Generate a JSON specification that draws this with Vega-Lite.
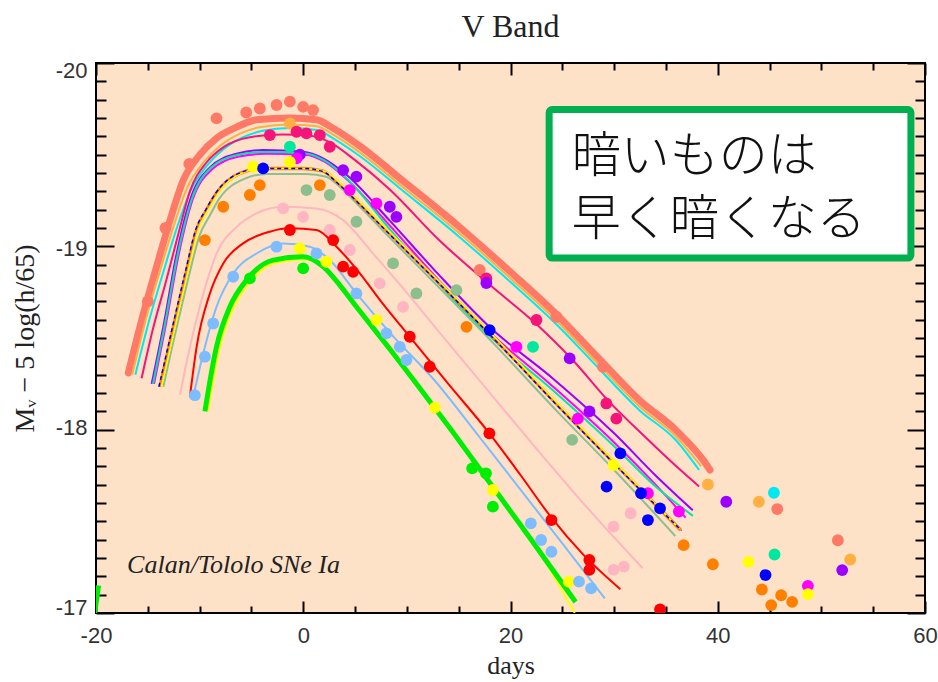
{
"$schema":"https://vega.github.io/schema/vega-lite/v6.json",
"width":829,"height":550,
"autosize":{"type":"none"},
"padding":{"left":96,"top":63,"right":13,"bottom":69},
"background":"#ffffff",
"config":{"view":{"stroke":"#000000","strokeWidth":2,"fill":"#FEE2C8"}},
"title":{"text":"V Band","font":"Liberation Serif","fontSize":32,"fontWeight":"normal","color":"#222222","anchor":"middle","frame":"group","baseline":"alphabetic","offset":-10},
"datasets":{
"curves":[
{"curve":"salmon","group":"salmon","day":-16.88,"mag":-18.31},{"curve":"salmon","group":"salmon","day":-15.44,"mag":-18.63},{"curve":"salmon","group":"salmon","day":-14.15,"mag":-18.89},{"curve":"salmon","group":"salmon","day":-12.87,"mag":-19.14},{"curve":"salmon","group":"salmon","day":-11.58,"mag":-19.36},{"curve":"salmon","group":"salmon","day":-9.97,"mag":-19.5},{"curve":"salmon","group":"salmon","day":-8.37,"mag":-19.59},{"curve":"salmon","group":"salmon","day":-6.44,"mag":-19.65},{"curve":"salmon","group":"salmon","day":-4.51,"mag":-19.69},{"curve":"salmon","group":"salmon","day":-1.29,"mag":-19.7},{"curve":"salmon","group":"salmon","day":1.28,"mag":-19.69},{"curve":"salmon","group":"salmon","day":3,"mag":-19.64},{"curve":"salmon","group":"salmon","day":5.14,"mag":-19.56},{"curve":"salmon","group":"salmon","day":10,"mag":-19.34},{"curve":"salmon","group":"salmon","day":14.78,"mag":-19.12},{"curve":"salmon","group":"salmon","day":20,"mag":-18.86},{"curve":"salmon","group":"salmon","day":24.42,"mag":-18.63},{"curve":"salmon","group":"salmon","day":28.5,"mag":-18.39},{"curve":"salmon","group":"salmon","day":32.46,"mag":-18.16},{"curve":"salmon","group":"salmon","day":35.92,"mag":-18.0},{"curve":"salmon","group":"salmon","day":38.58,"mag":-17.835},{"curve":"salmon","group":"salmon","day":39.25,"mag":-17.78},
{"curve":"lightorange","group":"lightorange","day":-16.5,"mag":-18.3},{"curve":"lightorange","group":"lightorange","day":-15.1,"mag":-18.62},{"curve":"lightorange","group":"lightorange","day":-13.8,"mag":-18.87},{"curve":"lightorange","group":"lightorange","day":-12.5,"mag":-19.11},{"curve":"lightorange","group":"lightorange","day":-11.2,"mag":-19.32},{"curve":"lightorange","group":"lightorange","day":-9.6,"mag":-19.46},{"curve":"lightorange","group":"lightorange","day":-8,"mag":-19.55},{"curve":"lightorange","group":"lightorange","day":-6.1,"mag":-19.615},{"curve":"lightorange","group":"lightorange","day":-4.2,"mag":-19.65},{"curve":"lightorange","group":"lightorange","day":-1.3,"mag":-19.665},{"curve":"lightorange","group":"lightorange","day":1.3,"mag":-19.655},{"curve":"lightorange","group":"lightorange","day":3,"mag":-19.605},{"curve":"lightorange","group":"lightorange","day":5.14,"mag":-19.525},{"curve":"lightorange","group":"lightorange","day":10,"mag":-19.305},{"curve":"lightorange","group":"lightorange","day":14.78,"mag":-19.085},{"curve":"lightorange","group":"lightorange","day":20,"mag":-18.825},{"curve":"lightorange","group":"lightorange","day":24.42,"mag":-18.595},{"curve":"lightorange","group":"lightorange","day":28.5,"mag":-18.355},{"curve":"lightorange","group":"lightorange","day":32.46,"mag":-18.125},{"curve":"lightorange","group":"lightorange","day":35.92,"mag":-17.965},{"curve":"lightorange","group":"lightorange","day":38.4,"mag":-17.8},
{"curve":"cyan","group":"cyan","day":-16.2,"mag":-18.3},{"curve":"cyan","group":"cyan","day":-14.8,"mag":-18.61},{"curve":"cyan","group":"cyan","day":-13.5,"mag":-18.86},{"curve":"cyan","group":"cyan","day":-12.2,"mag":-19.1},{"curve":"cyan","group":"cyan","day":-10.9,"mag":-19.3},{"curve":"cyan","group":"cyan","day":-9.3,"mag":-19.44},{"curve":"cyan","group":"cyan","day":-7.7,"mag":-19.53},{"curve":"cyan","group":"cyan","day":-5.8,"mag":-19.595},{"curve":"cyan","group":"cyan","day":-3.9,"mag":-19.63},{"curve":"cyan","group":"cyan","day":-1.3,"mag":-19.645},{"curve":"cyan","group":"cyan","day":1.3,"mag":-19.635},{"curve":"cyan","group":"cyan","day":3,"mag":-19.585},{"curve":"cyan","group":"cyan","day":5.14,"mag":-19.505},{"curve":"cyan","group":"cyan","day":10,"mag":-19.285},{"curve":"cyan","group":"cyan","day":14.78,"mag":-19.065},{"curve":"cyan","group":"cyan","day":20,"mag":-18.805},{"curve":"cyan","group":"cyan","day":24.42,"mag":-18.575},{"curve":"cyan","group":"cyan","day":28.5,"mag":-18.335},{"curve":"cyan","group":"cyan","day":32.46,"mag":-18.105},{"curve":"cyan","group":"cyan","day":35.92,"mag":-17.945},{"curve":"cyan","group":"cyan","day":38.2,"mag":-17.78},
{"curve":"deeppink","group":"deeppink","day":-15.6,"mag":-18.28},{"curve":"deeppink","group":"deeppink","day":-14.5,"mag":-18.55},{"curve":"deeppink","group":"deeppink","day":-13.19,"mag":-18.82},{"curve":"deeppink","group":"deeppink","day":-12,"mag":-19.08},{"curve":"deeppink","group":"deeppink","day":-10.94,"mag":-19.3},{"curve":"deeppink","group":"deeppink","day":-9.3,"mag":-19.46},{"curve":"deeppink","group":"deeppink","day":-7.72,"mag":-19.54},{"curve":"deeppink","group":"deeppink","day":-5.15,"mag":-19.595},{"curve":"deeppink","group":"deeppink","day":-2,"mag":-19.61},{"curve":"deeppink","group":"deeppink","day":0.5,"mag":-19.605},{"curve":"deeppink","group":"deeppink","day":2.5,"mag":-19.57},{"curve":"deeppink","group":"deeppink","day":5,"mag":-19.47},{"curve":"deeppink","group":"deeppink","day":8.35,"mag":-19.31},{"curve":"deeppink","group":"deeppink","day":13,"mag":-19.04},{"curve":"deeppink","group":"deeppink","day":18,"mag":-18.79},{"curve":"deeppink","group":"deeppink","day":22.8,"mag":-18.56},{"curve":"deeppink","group":"deeppink","day":26,"mag":-18.38},{"curve":"deeppink","group":"deeppink","day":29.4,"mag":-18.16},{"curve":"deeppink","group":"deeppink","day":33,"mag":-17.96},{"curve":"deeppink","group":"deeppink","day":36,"mag":-17.8},{"curve":"deeppink","group":"deeppink","day":38.2,"mag":-17.69},
{"curve":"purple","group":"purple","day":-14.63,"mag":-18.25},{"curve":"purple","group":"purple","day":-13.51,"mag":-18.56},{"curve":"purple","group":"purple","day":-12.22,"mag":-18.96},{"curve":"purple","group":"purple","day":-10.94,"mag":-19.25},{"curve":"purple","group":"purple","day":-9.01,"mag":-19.43},{"curve":"purple","group":"purple","day":-6.44,"mag":-19.505},{"curve":"purple","group":"purple","day":-3.87,"mag":-19.525},{"curve":"purple","group":"purple","day":-0.01,"mag":-19.516},{"curve":"purple","group":"purple","day":1.92,"mag":-19.48},{"curve":"purple","group":"purple","day":4.17,"mag":-19.39},{"curve":"purple","group":"purple","day":8.35,"mag":-19.14},{"curve":"purple","group":"purple","day":13,"mag":-18.85},{"curve":"purple","group":"purple","day":17.99,"mag":-18.56},{"curve":"purple","group":"purple","day":24.28,"mag":-18.27},{"curve":"purple","group":"purple","day":30,"mag":-17.98},{"curve":"purple","group":"purple","day":34,"mag":-17.75},{"curve":"purple","group":"purple","day":37.59,"mag":-17.56},
{"curve":"magenta","group":"magenta","day":-14.4,"mag":-18.25},{"curve":"magenta","group":"magenta","day":-13.3,"mag":-18.56},{"curve":"magenta","group":"magenta","day":-12,"mag":-18.96},{"curve":"magenta","group":"magenta","day":-10.7,"mag":-19.25},{"curve":"magenta","group":"magenta","day":-8.8,"mag":-19.42},{"curve":"magenta","group":"magenta","day":-6.2,"mag":-19.49},{"curve":"magenta","group":"magenta","day":-3.6,"mag":-19.505},{"curve":"magenta","group":"magenta","day":0.2,"mag":-19.5},{"curve":"magenta","group":"magenta","day":2.1,"mag":-19.46},{"curve":"magenta","group":"magenta","day":4.3,"mag":-19.36},{"curve":"magenta","group":"magenta","day":8.4,"mag":-19.11},{"curve":"magenta","group":"magenta","day":13,"mag":-18.82},{"curve":"magenta","group":"magenta","day":18,"mag":-18.53},{"curve":"magenta","group":"magenta","day":24,"mag":-18.24},{"curve":"magenta","group":"magenta","day":30,"mag":-17.93},{"curve":"magenta","group":"magenta","day":34,"mag":-17.7},{"curve":"magenta","group":"magenta","day":36.9,"mag":-17.52},
{"curve":"turquoise","group":"turquoise","day":-14.5,"mag":-18.25},{"curve":"turquoise","group":"turquoise","day":-13.4,"mag":-18.56},{"curve":"turquoise","group":"turquoise","day":-12.1,"mag":-18.96},{"curve":"turquoise","group":"turquoise","day":-10.8,"mag":-19.25},{"curve":"turquoise","group":"turquoise","day":-8.9,"mag":-19.43},{"curve":"turquoise","group":"turquoise","day":-6.3,"mag":-19.5},{"curve":"turquoise","group":"turquoise","day":-3.7,"mag":-19.515},{"curve":"turquoise","group":"turquoise","day":0.1,"mag":-19.508},{"curve":"turquoise","group":"turquoise","day":2,"mag":-19.47},{"curve":"turquoise","group":"turquoise","day":4.2,"mag":-19.37},{"curve":"turquoise","group":"turquoise","day":8.4,"mag":-19.09},{"curve":"turquoise","group":"turquoise","day":13,"mag":-18.8},{"curve":"turquoise","group":"turquoise","day":18,"mag":-18.51},{"curve":"turquoise","group":"turquoise","day":24.2,"mag":-18.21},{"curve":"turquoise","group":"turquoise","day":30,"mag":-17.91},{"curve":"turquoise","group":"turquoise","day":34,"mag":-17.69},{"curve":"turquoise","group":"turquoise","day":37.6,"mag":-17.53},
{"curve":"graygreen","group":"graygreen","day":-13.5,"mag":-18.234},{"curve":"graygreen","group":"graygreen","day":-12.7,"mag":-18.44},{"curve":"graygreen","group":"graygreen","day":-11.9,"mag":-18.634},{"curve":"graygreen","group":"graygreen","day":-10.9,"mag":-18.87},{"curve":"graygreen","group":"graygreen","day":-10,"mag":-19.06},{"curve":"graygreen","group":"graygreen","day":-9,"mag":-19.17},{"curve":"graygreen","group":"graygreen","day":-8.1,"mag":-19.26},{"curve":"graygreen","group":"graygreen","day":-5.8,"mag":-19.365},{"curve":"graygreen","group":"graygreen","day":-3.5,"mag":-19.395},{"curve":"graygreen","group":"graygreen","day":0.3,"mag":-19.395},{"curve":"graygreen","group":"graygreen","day":2.2,"mag":-19.38},{"curve":"graygreen","group":"graygreen","day":3.8,"mag":-19.31},{"curve":"graygreen","group":"graygreen","day":5.4,"mag":-19.22},{"curve":"graygreen","group":"graygreen","day":8.3,"mag":-19.05},{"curve":"graygreen","group":"graygreen","day":11.8,"mag":-18.85},{"curve":"graygreen","group":"graygreen","day":18.2,"mag":-18.48},{"curve":"graygreen","group":"graygreen","day":24.5,"mag":-18.1},{"curve":"graygreen","group":"graygreen","day":30,"mag":-17.78},{"curve":"graygreen","group":"graygreen","day":35.9,"mag":-17.42},
{"curve":"cluster_orange","group":"darkorange","day":-13.83,"mag":-18.234},{"curve":"cluster_orange","group":"darkorange","day":-13,"mag":-18.44},{"curve":"cluster_orange","group":"darkorange","day":-12.22,"mag":-18.634},{"curve":"cluster_orange","group":"darkorange","day":-11.2,"mag":-18.88},{"curve":"cluster_orange","group":"darkorange","day":-10.29,"mag":-19.089},{"curve":"cluster_orange","group":"darkorange","day":-9.3,"mag":-19.2},{"curve":"cluster_orange","group":"darkorange","day":-8.37,"mag":-19.289},{"curve":"cluster_orange","group":"darkorange","day":-6.12,"mag":-19.398},{"curve":"cluster_orange","group":"darkorange","day":-3.87,"mag":-19.425},{"curve":"cluster_orange","group":"darkorange","day":-0.01,"mag":-19.425},{"curve":"cluster_orange","group":"darkorange","day":1.92,"mag":-19.41},{"curve":"cluster_orange","group":"darkorange","day":3.5,"mag":-19.34},{"curve":"cluster_orange","group":"darkorange","day":5.14,"mag":-19.252},{"curve":"cluster_orange","group":"darkorange","day":8,"mag":-19.09},{"curve":"cluster_orange","group":"darkorange","day":11.57,"mag":-18.889},{"curve":"cluster_orange","group":"darkorange","day":17.99,"mag":-18.525},{"curve":"cluster_orange","group":"darkorange","day":24.42,"mag":-18.143},{"curve":"cluster_orange","group":"darkorange","day":30,"mag":-17.82},{"curve":"cluster_orange","group":"darkorange","day":36.4,"mag":-17.453},
{"curve":"cluster_yellow","group":"yellow","day":-13.68,"mag":-18.234},{"curve":"cluster_yellow","group":"yellow","day":-12.85,"mag":-18.44},{"curve":"cluster_yellow","group":"yellow","day":-12.07,"mag":-18.634},{"curve":"cluster_yellow","group":"yellow","day":-11.05,"mag":-18.88},{"curve":"cluster_yellow","group":"yellow","day":-10.14,"mag":-19.089},{"curve":"cluster_yellow","group":"yellow","day":-9.15,"mag":-19.2},{"curve":"cluster_yellow","group":"yellow","day":-8.22,"mag":-19.289},{"curve":"cluster_yellow","group":"yellow","day":-5.97,"mag":-19.398},{"curve":"cluster_yellow","group":"yellow","day":-3.72,"mag":-19.425},{"curve":"cluster_yellow","group":"yellow","day":0.14,"mag":-19.425},{"curve":"cluster_yellow","group":"yellow","day":2.07,"mag":-19.41},{"curve":"cluster_yellow","group":"yellow","day":3.65,"mag":-19.34},{"curve":"cluster_yellow","group":"yellow","day":5.29,"mag":-19.252},{"curve":"cluster_yellow","group":"yellow","day":8.15,"mag":-19.09},{"curve":"cluster_yellow","group":"yellow","day":11.72,"mag":-18.889},{"curve":"cluster_yellow","group":"yellow","day":18.14,"mag":-18.525},{"curve":"cluster_yellow","group":"yellow","day":24.57,"mag":-18.143},{"curve":"cluster_yellow","group":"yellow","day":30.15,"mag":-17.82},{"curve":"cluster_yellow","group":"yellow","day":36.3,"mag":-17.46},
{"curve":"cluster_blue","group":"blue","day":-13.93,"mag":-18.234},{"curve":"cluster_blue","group":"blue","day":-13.1,"mag":-18.44},{"curve":"cluster_blue","group":"blue","day":-12.32,"mag":-18.634},{"curve":"cluster_blue","group":"blue","day":-11.3,"mag":-18.88},{"curve":"cluster_blue","group":"blue","day":-10.39,"mag":-19.089},{"curve":"cluster_blue","group":"blue","day":-9.4,"mag":-19.2},{"curve":"cluster_blue","group":"blue","day":-8.47,"mag":-19.289},{"curve":"cluster_blue","group":"blue","day":-6.22,"mag":-19.398},{"curve":"cluster_blue","group":"blue","day":-3.97,"mag":-19.425},{"curve":"cluster_blue","group":"blue","day":-0.11,"mag":-19.425},{"curve":"cluster_blue","group":"blue","day":1.82,"mag":-19.41},{"curve":"cluster_blue","group":"blue","day":3.4,"mag":-19.34},{"curve":"cluster_blue","group":"blue","day":5.04,"mag":-19.252},{"curve":"cluster_blue","group":"blue","day":7.9,"mag":-19.09},{"curve":"cluster_blue","group":"blue","day":11.47,"mag":-18.889},{"curve":"cluster_blue","group":"blue","day":17.89,"mag":-18.525},{"curve":"cluster_blue","group":"blue","day":24.32,"mag":-18.143},{"curve":"cluster_blue","group":"blue","day":29.9,"mag":-17.82},{"curve":"cluster_blue","group":"blue","day":36.5,"mag":-17.45},
{"curve":"lightpink","group":"lightpink","day":-11.9,"mag":-18.19},{"curve":"lightpink","group":"lightpink","day":-10.94,"mag":-18.45},{"curve":"lightpink","group":"lightpink","day":-9.65,"mag":-18.74},{"curve":"lightpink","group":"lightpink","day":-8.37,"mag":-18.96},{"curve":"lightpink","group":"lightpink","day":-6.44,"mag":-19.105},{"curve":"lightpink","group":"lightpink","day":-4.51,"mag":-19.18},{"curve":"lightpink","group":"lightpink","day":-1.94,"mag":-19.216},{"curve":"lightpink","group":"lightpink","day":1.28,"mag":-19.207},{"curve":"lightpink","group":"lightpink","day":3.85,"mag":-19.143},{"curve":"lightpink","group":"lightpink","day":6.74,"mag":-18.96},{"curve":"lightpink","group":"lightpink","day":9.5,"mag":-18.78},{"curve":"lightpink","group":"lightpink","day":13,"mag":-18.54},{"curve":"lightpink","group":"lightpink","day":16.97,"mag":-18.271},{"curve":"lightpink","group":"lightpink","day":22,"mag":-17.93},{"curve":"lightpink","group":"lightpink","day":27,"mag":-17.6},{"curve":"lightpink","group":"lightpink","day":32.76,"mag":-17.244},
{"curve":"red","group":"red","day":-10.94,"mag":-18.179},{"curve":"red","group":"red","day":-10.29,"mag":-18.452},{"curve":"red","group":"red","day":-9.01,"mag":-18.743},{"curve":"red","group":"red","day":-7.72,"mag":-18.907},{"curve":"red","group":"red","day":-5.8,"mag":-19.016},{"curve":"red","group":"red","day":-3.22,"mag":-19.08},{"curve":"red","group":"red","day":-1.29,"mag":-19.098},{"curve":"red","group":"red","day":1.28,"mag":-19.089},{"curve":"red","group":"red","day":3.21,"mag":-18.998},{"curve":"red","group":"red","day":5.5,"mag":-18.85},{"curve":"red","group":"red","day":7.5,"mag":-18.7},{"curve":"red","group":"red","day":10.28,"mag":-18.507},{"curve":"red","group":"red","day":14,"mag":-18.25},{"curve":"red","group":"red","day":17.96,"mag":-17.98},{"curve":"red","group":"red","day":21,"mag":-17.75},{"curve":"red","group":"red","day":23.95,"mag":-17.52},{"curve":"red","group":"red","day":27,"mag":-17.32},{"curve":"red","group":"red","day":30.6,"mag":-17.13},
{"curve":"lightblue","group":"lightblue","day":-10.62,"mag":-18.179},{"curve":"lightblue","group":"lightblue","day":-9.65,"mag":-18.416},{"curve":"lightblue","group":"lightblue","day":-8.37,"mag":-18.67},{"curve":"lightblue","group":"lightblue","day":-6.76,"mag":-18.852},{"curve":"lightblue","group":"lightblue","day":-4.51,"mag":-18.961},{"curve":"lightblue","group":"lightblue","day":-1.94,"mag":-19.016},{"curve":"lightblue","group":"lightblue","day":0.64,"mag":-18.998},{"curve":"lightblue","group":"lightblue","day":2.56,"mag":-18.925},{"curve":"lightblue","group":"lightblue","day":5.13,"mag":-18.743},{"curve":"lightblue","group":"lightblue","day":8.5,"mag":-18.52},{"curve":"lightblue","group":"lightblue","day":12.64,"mag":-18.271},{"curve":"lightblue","group":"lightblue","day":17,"mag":-17.96},{"curve":"lightblue","group":"lightblue","day":21,"mag":-17.67},{"curve":"lightblue","group":"lightblue","day":25,"mag":-17.38},{"curve":"lightblue","group":"lightblue","day":29.1,"mag":-17.08},
{"curve":"green_yellow","group":"yellow","day":-9.2,"mag":-18.1},{"curve":"green_yellow","group":"yellow","day":-8.1,"mag":-18.44},{"curve":"green_yellow","group":"yellow","day":-6.8,"mag":-18.655},{"curve":"green_yellow","group":"yellow","day":-5.2,"mag":-18.8},{"curve":"green_yellow","group":"yellow","day":-2.6,"mag":-18.91},{"curve":"green_yellow","group":"yellow","day":0.3,"mag":-18.928},{"curve":"green_yellow","group":"yellow","day":2.2,"mag":-18.872},{"curve":"green_yellow","group":"yellow","day":3.8,"mag":-18.77},{"curve":"green_yellow","group":"yellow","day":5.4,"mag":-18.65},{"curve":"green_yellow","group":"yellow","day":8.6,"mag":-18.42},{"curve":"green_yellow","group":"yellow","day":10.9,"mag":-18.25},{"curve":"green_yellow","group":"yellow","day":14.3,"mag":-17.995},{"curve":"green_yellow","group":"yellow","day":18.3,"mag":-17.685},{"curve":"green_yellow","group":"yellow","day":22.3,"mag":-17.375},{"curve":"green_yellow","group":"yellow","day":26.2,"mag":-17.0},
{"curve":"green","group":"green","day":-9.49,"mag":-18.1},{"curve":"green","group":"green","day":-8.37,"mag":-18.452},{"curve":"green","group":"green","day":-7.08,"mag":-18.67},{"curve":"green","group":"green","day":-5.47,"mag":-18.816},{"curve":"green","group":"green","day":-2.9,"mag":-18.925},{"curve":"green","group":"green","day":-0.01,"mag":-18.943},{"curve":"green","group":"green","day":1.92,"mag":-18.889},{"curve":"green","group":"green","day":3.5,"mag":-18.79},{"curve":"green","group":"green","day":5.13,"mag":-18.67},{"curve":"green","group":"green","day":8.35,"mag":-18.44},{"curve":"green","group":"green","day":10.65,"mag":-18.271},{"curve":"green","group":"green","day":14,"mag":-18.02},{"curve":"green","group":"green","day":18,"mag":-17.71},{"curve":"green","group":"green","day":22,"mag":-17.4},{"curve":"green","group":"green","day":26.28,"mag":-17.06},
{"curve":"green_edge","group":"green","day":-20.3,"mag":-16.93},{"curve":"green_edge","group":"green","day":-19.75,"mag":-17.15}
],
"dots":[
{"group":"salmon","day":-15.0,"mag":-18.7},{"group":"salmon","day":-13.3,"mag":-19.1},{"group":"salmon","day":-11.0,"mag":-19.45},{"group":"salmon","day":-8.37,"mag":-19.698},{"group":"salmon","day":-5.5,"mag":-19.73},{"group":"salmon","day":-4.19,"mag":-19.752},{"group":"salmon","day":-2.58,"mag":-19.771},{"group":"salmon","day":-1.29,"mag":-19.789},{"group":"salmon","day":-0.01,"mag":-19.761},{"group":"salmon","day":0.95,"mag":-19.743},{"group":"salmon","day":17.03,"mag":-18.871},{"group":"salmon","day":24.42,"mag":-18.616},{"group":"salmon","day":28.92,"mag":-18.343},{"group":"salmon","day":45.74,"mag":-17.567},{"group":"salmon","day":51.59,"mag":-17.397},
{"group":"lightorange","day":-1.29,"mag":-19.67},{"group":"lightorange","day":39.05,"mag":-17.701},{"group":"lightorange","day":43.97,"mag":-17.607},{"group":"lightorange","day":52.78,"mag":-17.292},
{"group":"cyan","day":45.42,"mag":-17.656},
{"group":"deeppink","day":-3.22,"mag":-19.607},{"group":"deeppink","day":-0.65,"mag":-19.625},{"group":"deeppink","day":0.31,"mag":-19.616},{"group":"deeppink","day":1.6,"mag":-19.607},{"group":"deeppink","day":2.56,"mag":-19.543},{"group":"deeppink","day":17.67,"mag":-18.825},{"group":"deeppink","day":22.5,"mag":-18.598},{"group":"deeppink","day":29.25,"mag":-18.143},{"group":"deeppink","day":30.21,"mag":-18.06},
{"group":"purple","day":-0.33,"mag":-19.5},{"group":"purple","day":3.85,"mag":-19.416},{"group":"purple","day":5.13,"mag":-19.38},{"group":"purple","day":8.35,"mag":-19.216},{"group":"purple","day":8.99,"mag":-19.161},{"group":"purple","day":17.67,"mag":-18.8},{"group":"purple","day":25.71,"mag":-18.389},{"group":"purple","day":27.62,"mag":-18.1},{"group":"purple","day":40.82,"mag":-17.607},{"group":"purple","day":52.01,"mag":-17.234},
{"group":"magenta","day":-0.65,"mag":-19.48},{"group":"magenta","day":4.49,"mag":-19.307},{"group":"magenta","day":7.06,"mag":-19.234},{"group":"magenta","day":20.57,"mag":-18.452},{"group":"magenta","day":26.5,"mag":-18.06},{"group":"magenta","day":33.26,"mag":-17.653},{"group":"magenta","day":36.25,"mag":-17.553},{"group":"magenta","day":48.7,"mag":-17.148},
{"group":"turquoise","day":-1.29,"mag":-19.543},{"group":"turquoise","day":22.17,"mag":-18.452},{"group":"turquoise","day":45.48,"mag":-17.319},
{"group":"yellow","day":-4.83,"mag":-19.434},{"group":"yellow","day":-1.29,"mag":-19.461},{"group":"yellow","day":-0.33,"mag":-18.989},{"group":"yellow","day":2.24,"mag":-18.916},{"group":"yellow","day":7.07,"mag":-18.598},{"group":"yellow","day":12.7,"mag":-18.12},{"group":"yellow","day":18.3,"mag":-17.671},{"group":"yellow","day":25.62,"mag":-17.171},{"group":"yellow","day":29.94,"mag":-17.807},{"group":"yellow","day":42.97,"mag":-17.279},{"group":"yellow","day":48.7,"mag":-17.103},
{"group":"blue","day":-3.87,"mag":-19.425},{"group":"blue","day":17.99,"mag":-18.543},{"group":"blue","day":30.6,"mag":-17.871},{"group":"blue","day":29.27,"mag":-17.689},{"group":"blue","day":32.6,"mag":-17.653},{"group":"blue","day":34.43,"mag":-17.571},{"group":"blue","day":33.26,"mag":-17.507},{"group":"blue","day":44.61,"mag":-17.207},
{"group":"darkorange","day":-4.19,"mag":-19.334},{"group":"darkorange","day":-5.15,"mag":-19.28},{"group":"darkorange","day":-7.72,"mag":-19.216},{"group":"darkorange","day":-9.49,"mag":-19.034},{"group":"darkorange","day":1.6,"mag":-19.334},{"group":"darkorange","day":15.75,"mag":-18.561},{"group":"darkorange","day":36.71,"mag":-17.37},{"group":"darkorange","day":39.53,"mag":-17.266},{"group":"darkorange","day":44.26,"mag":-17.128},{"group":"darkorange","day":46.12,"mag":-17.097},{"group":"darkorange","day":47.18,"mag":-17.061},{"group":"darkorange","day":45.16,"mag":-17.043},
{"group":"graygreen","day":0.31,"mag":-19.307},{"group":"graygreen","day":2.56,"mag":-19.28},{"group":"graygreen","day":5.13,"mag":-19.134},{"group":"graygreen","day":8.67,"mag":-18.907},{"group":"graygreen","day":10.92,"mag":-18.743},{"group":"graygreen","day":14.78,"mag":-18.761},{"group":"graygreen","day":25.95,"mag":-17.944},
{"group":"lightpink","day":-1.94,"mag":-19.207},{"group":"lightpink","day":-0.01,"mag":-19.161},{"group":"lightpink","day":2.56,"mag":-19.089},{"group":"lightpink","day":4.49,"mag":-18.98},{"group":"lightpink","day":7.38,"mag":-18.798},{"group":"lightpink","day":9.63,"mag":-18.67},{"group":"lightpink","day":29.94,"mag":-17.471},{"group":"lightpink","day":31.6,"mag":-17.544},{"group":"lightpink","day":29.94,"mag":-17.235},{"group":"lightpink","day":30.94,"mag":-17.253},
{"group":"red","day":-1.29,"mag":-19.089},{"group":"red","day":2.89,"mag":-19.034},{"group":"red","day":3.85,"mag":-18.889},{"group":"red","day":4.81,"mag":-18.861},{"group":"red","day":10.28,"mag":-18.507},{"group":"red","day":12.21,"mag":-18.343},{"group":"red","day":17.96,"mag":-17.98},{"group":"red","day":23.95,"mag":-17.507},{"group":"red","day":27.61,"mag":-17.289},{"group":"red","day":27.61,"mag":-17.235},{"group":"red","day":34.43,"mag":-17.02},
{"group":"lightblue","day":-2.58,"mag":-18.998},{"group":"lightblue","day":-6.76,"mag":-18.834},{"group":"lightblue","day":-8.69,"mag":-18.579},{"group":"lightblue","day":-9.49,"mag":-18.398},{"group":"lightblue","day":-10.46,"mag":-18.188},{"group":"lightblue","day":1.28,"mag":-18.961},{"group":"lightblue","day":5.13,"mag":-18.743},{"group":"lightblue","day":8.03,"mag":-18.525},{"group":"lightblue","day":9.32,"mag":-18.452},{"group":"lightblue","day":9.96,"mag":-18.38},{"group":"lightblue","day":21.96,"mag":-17.489},{"group":"lightblue","day":22.95,"mag":-17.398},{"group":"lightblue","day":23.95,"mag":-17.334},{"group":"lightblue","day":26.61,"mag":-17.171},{"group":"lightblue","day":27.78,"mag":-17.134},
{"group":"green","day":-0.01,"mag":-18.88},{"group":"green","day":-5.15,"mag":-18.825},{"group":"green","day":16.3,"mag":-17.789},{"group":"green","day":17.63,"mag":-17.762},{"group":"green","day":18.3,"mag":-17.58}
],
"notes":[{"label":"Calan/Tololo SNe Ia","day":-17.0,"mag":-17.22}],
"jp":[{"label":"暗いものは","day":25.9,"mag":-19.49},{"label":"早く暗くなる","day":25.9,"mag":-19.143}],
"box":[{"day":23.73,"day2":58.64,"mag":-19.746,"mag2":-18.936}]
},
"layer":[
{"data":{"name":"curves"},"transform":[{"filter":{"field":"curve","equal":"salmon"}}],
 "mark":{"type":"line","strokeWidth":7,"interpolate":"monotone","clip":true,"strokeCap":"round"},
 "encoding":{
  "x":{"field":"day","type":"quantitative","scale":{"domain":[-20,60],"nice":false,"zero":false},
   "axis":{"orient":"bottom","values":[-20,0,20,40,60],"labelExpr":"'' + datum.value","title":"days","titleFont":"Liberation Serif","titleFontSize":26,"titleFontWeight":"normal","titleColor":"#222222","titlePadding":6,"labelFont":"Liberation Sans","labelFontSize":22,"labelColor":"#333333","labelPadding":12,"ticks":false,"tickSize":0,"domain":false,"grid":false,"labelFlush":false,"labelOverlap":false}},
  "y":{"field":"mag","type":"quantitative","scale":{"domain":[-20,-17],"reverse":true,"nice":false,"zero":false},
   "axis":{"orient":"left","values":[-20,-19,-18,-17],"labelExpr":"'' + datum.value","labelOffset":{"condition":[{"test":"datum.value == -20","value":7},{"test":"datum.value == -19","value":2},{"test":"datum.value == -18","value":-2}],"value":-6},"title":"Mᵥ − 5 log(h/65)","titleFont":"Liberation Serif","titleFontSize":28,"titleFontWeight":"normal","titleColor":"#222222","titlePadding":16,"labelFont":"Liberation Sans","labelFontSize":22,"labelColor":"#333333","labelPadding":9,"ticks":false,"tickSize":0,"domain":false,"grid":false,"labelFlush":false,"labelOverlap":false}},
  "color":{"field":"group","type":"nominal","legend":null,"scale":{"domain":["salmon","lightorange","cyan","deeppink","purple","magenta","turquoise","darkorange","yellow","blue","graygreen","lightpink","red","lightblue","green"],"range":["#FF7A66","#FFB040","#00E8F0","#F5147A","#9B00FF","#FF00FF","#00E8A0","#FF8000","#FFFF00","#0000FF","#8DBE8D","#FFB6C1","#FF0000","#7CBCFF","#00EE00"]}},
  "detail":{"field":"curve"}}},
{"data":{"name":"curves"},"transform":[{"filter":{"field":"curve","oneOf":["lightorange","cyan","deeppink","purple","magenta","turquoise","graygreen","lightpink","red","lightblue","green_yellow"]}}],
 "mark":{"type":"line","strokeWidth":2,"interpolate":"monotone","clip":true},
 "encoding":{
  "x":{"field":"day","type":"quantitative","scale":{"domain":[-20,60],"nice":false,"zero":false},
   "axis":{"orient":"bottom","values":[-20,0,20,40,60],"labels":false,"title":null,"tickSize":-12,"tickColor":"#000000","tickWidth":2,"domain":false,"grid":false}},
  "y":{"field":"mag","type":"quantitative","scale":{"domain":[-20,-17],"reverse":true,"nice":false,"zero":false},
   "axis":{"orient":"left","values":[-20,-19,-18,-17],"labels":false,"title":null,"tickSize":-18,"tickColor":"#000000","tickWidth":2,"domain":false,"grid":false}},
  "color":{"field":"group","type":"nominal","legend":null,"scale":{"domain":["salmon","lightorange","cyan","deeppink","purple","magenta","turquoise","darkorange","yellow","blue","graygreen","lightpink","red","lightblue","green"],"range":["#FF7A66","#FFB040","#00E8F0","#F5147A","#9B00FF","#FF00FF","#00E8A0","#FF8000","#FFFF00","#0000FF","#8DBE8D","#FFB6C1","#FF0000","#7CBCFF","#00EE00"]}},
  "detail":{"field":"curve"}}},
{"data":{"name":"curves"},"transform":[{"filter":{"field":"curve","equal":"cluster_orange"}}],
 "mark":{"type":"line","strokeWidth":3.5,"interpolate":"monotone","clip":true},
 "encoding":{
  "x":{"field":"day","type":"quantitative","scale":{"domain":[-20,60],"nice":false,"zero":false},"axis":null},
  "y":{"field":"mag","type":"quantitative","scale":{"domain":[-20,-17],"reverse":true,"nice":false,"zero":false},"axis":null},
  "color":{"field":"group","type":"nominal","legend":null,"scale":{"domain":["salmon","lightorange","cyan","deeppink","purple","magenta","turquoise","darkorange","yellow","blue","graygreen","lightpink","red","lightblue","green"],"range":["#FF7A66","#FFB040","#00E8F0","#F5147A","#9B00FF","#FF00FF","#00E8A0","#FF8000","#FFFF00","#0000FF","#8DBE8D","#FFB6C1","#FF0000","#7CBCFF","#00EE00"]}},
  "detail":{"field":"curve"}}},
{"data":{"name":"curves"},"transform":[{"filter":{"field":"curve","equal":"cluster_yellow"}}],
 "mark":{"type":"line","strokeWidth":1.5,"interpolate":"monotone","clip":true},
 "encoding":{
  "x":{"field":"day","type":"quantitative","scale":{"domain":[-20,60],"nice":false,"zero":false},"axis":null},
  "y":{"field":"mag","type":"quantitative","scale":{"domain":[-20,-17],"reverse":true,"nice":false,"zero":false},"axis":null},
  "color":{"field":"group","type":"nominal","legend":null,"scale":{"domain":["salmon","lightorange","cyan","deeppink","purple","magenta","turquoise","darkorange","yellow","blue","graygreen","lightpink","red","lightblue","green"],"range":["#FF7A66","#FFB040","#00E8F0","#F5147A","#9B00FF","#FF00FF","#00E8A0","#FF8000","#FFFF00","#0000FF","#8DBE8D","#FFB6C1","#FF0000","#7CBCFF","#00EE00"]}},
  "detail":{"field":"curve"}}},
{"data":{"name":"curves"},"transform":[{"filter":{"field":"curve","equal":"cluster_blue"}}],
 "mark":{"type":"line","strokeWidth":1.5,"strokeDash":[4,3],"interpolate":"monotone","clip":true},
 "encoding":{
  "x":{"field":"day","type":"quantitative","scale":{"domain":[-20,60],"nice":false,"zero":false},"axis":null},
  "y":{"field":"mag","type":"quantitative","scale":{"domain":[-20,-17],"reverse":true,"nice":false,"zero":false},"axis":null},
  "color":{"field":"group","type":"nominal","legend":null,"scale":{"domain":["salmon","lightorange","cyan","deeppink","purple","magenta","turquoise","darkorange","yellow","blue","graygreen","lightpink","red","lightblue","green"],"range":["#FF7A66","#FFB040","#00E8F0","#F5147A","#9B00FF","#FF00FF","#00E8A0","#FF8000","#FFFF00","#0000FF","#8DBE8D","#FFB6C1","#FF0000","#7CBCFF","#00EE00"]}},
  "detail":{"field":"curve"}}},
{"data":{"name":"curves"},"transform":[{"filter":{"field":"curve","oneOf":["green","green_edge"]}}],
 "mark":{"type":"line","strokeWidth":5,"interpolate":"monotone","clip":true},
 "encoding":{
  "x":{"field":"day","type":"quantitative","scale":{"domain":[-20,60],"nice":false,"zero":false},"axis":null},
  "y":{"field":"mag","type":"quantitative","scale":{"domain":[-20,-17],"reverse":true,"nice":false,"zero":false},"axis":null},
  "color":{"field":"group","type":"nominal","legend":null,"scale":{"domain":["salmon","lightorange","cyan","deeppink","purple","magenta","turquoise","darkorange","yellow","blue","graygreen","lightpink","red","lightblue","green"],"range":["#FF7A66","#FFB040","#00E8F0","#F5147A","#9B00FF","#FF00FF","#00E8A0","#FF8000","#FFFF00","#0000FF","#8DBE8D","#FFB6C1","#FF0000","#7CBCFF","#00EE00"]}},
  "detail":{"field":"curve"}}},
{"data":{"name":"dots"},
 "mark":{"type":"point","shape":"circle","filled":true,"opacity":1,"size":140,"clip":true},
 "encoding":{
  "x":{"field":"day","type":"quantitative","scale":{"domain":[-20,60],"nice":false,"zero":false},
   "axis":{"orient":"bottom","values":[-15,-10,-5,5,10,15,25,30,35,45,50,55],"labels":false,"title":null,"tickSize":-7,"tickColor":"#000000","tickWidth":2,"domain":false,"grid":false}},
  "y":{"field":"mag","type":"quantitative","scale":{"domain":[-20,-17],"reverse":true,"nice":false,"zero":false},
   "axis":{"orient":"left","values":[-19.9,-19.8,-19.7,-19.6,-19.5,-19.4,-19.3,-19.2,-19.1,-18.9,-18.8,-18.7,-18.6,-18.5,-18.4,-18.3,-18.2,-18.1,-17.9,-17.8,-17.7,-17.6,-17.5,-17.4,-17.3,-17.2,-17.1],"labels":false,"title":null,"tickSize":-10,"tickColor":"#000000","tickWidth":2,"domain":false,"grid":false}},
  "color":{"field":"group","type":"nominal","legend":null,"scale":{"domain":["salmon","lightorange","cyan","deeppink","purple","magenta","turquoise","darkorange","yellow","blue","graygreen","lightpink","red","lightblue","green"],"range":["#FF7A66","#FFB040","#00E8F0","#F5147A","#9B00FF","#FF00FF","#00E8A0","#FF8000","#FFFF00","#0000FF","#8DBE8D","#FFB6C1","#FF0000","#7CBCFF","#00EE00"]}}}},
{"data":{"name":"notes"},
 "mark":{"type":"text","font":"Liberation Serif","fontStyle":"italic","fontSize":26,"color":"#222222","align":"left","baseline":"alphabetic"},
 "encoding":{
  "x":{"field":"day","type":"quantitative","scale":{"domain":[-20,60],"nice":false,"zero":false},
   "axis":{"orient":"top","values":[-20,0,20,40,60],"labels":false,"title":null,"tickSize":-12,"tickColor":"#000000","tickWidth":2,"domain":false,"grid":false}},
  "y":{"field":"mag","type":"quantitative","scale":{"domain":[-20,-17],"reverse":true,"nice":false,"zero":false},
   "axis":{"orient":"right","values":[-20,-19,-18,-17],"labels":false,"title":null,"tickSize":-18,"tickColor":"#000000","tickWidth":2,"domain":false,"grid":false}},
  "text":{"field":"label"}}},
{"data":{"name":"box"},
 "mark":{"type":"rect","fill":"#ffffff","stroke":"#00B050","strokeWidth":7,"cornerRadius":3},
 "encoding":{
  "x":{"field":"day","type":"quantitative","scale":{"domain":[-20,60],"nice":false,"zero":false},"axis":null},
  "x2":{"field":"day2"},
  "y":{"field":"mag","type":"quantitative","scale":{"domain":[-20,-17],"reverse":true,"nice":false,"zero":false},"axis":null},
  "y2":{"field":"mag2"}}},
{"data":{"name":"jp"},
 "mark":{"type":"text","font":"Noto Sans CJK JP","fontSize":49,"fontWeight":300,"color":"#111111","align":"left","baseline":"middle"},
 "encoding":{
  "x":{"field":"day","type":"quantitative","scale":{"domain":[-20,60],"nice":false,"zero":false},
   "axis":{"orient":"top","values":[-15,-10,-5,5,10,15,25,30,35,45,50,55],"labels":false,"title":null,"tickSize":-7,"tickColor":"#000000","tickWidth":2,"domain":false,"grid":false}},
  "y":{"field":"mag","type":"quantitative","scale":{"domain":[-20,-17],"reverse":true,"nice":false,"zero":false},
   "axis":{"orient":"right","values":[-19.9,-19.8,-19.7,-19.6,-19.5,-19.4,-19.3,-19.2,-19.1,-18.9,-18.8,-18.7,-18.6,-18.5,-18.4,-18.3,-18.2,-18.1,-17.9,-17.8,-17.7,-17.6,-17.5,-17.4,-17.3,-17.2,-17.1],"labels":false,"title":null,"tickSize":-10,"tickColor":"#000000","tickWidth":2,"domain":false,"grid":false}},
  "text":{"field":"label"}}}
],
"resolve":{"axis":{"x":"independent","y":"independent"}}
}
